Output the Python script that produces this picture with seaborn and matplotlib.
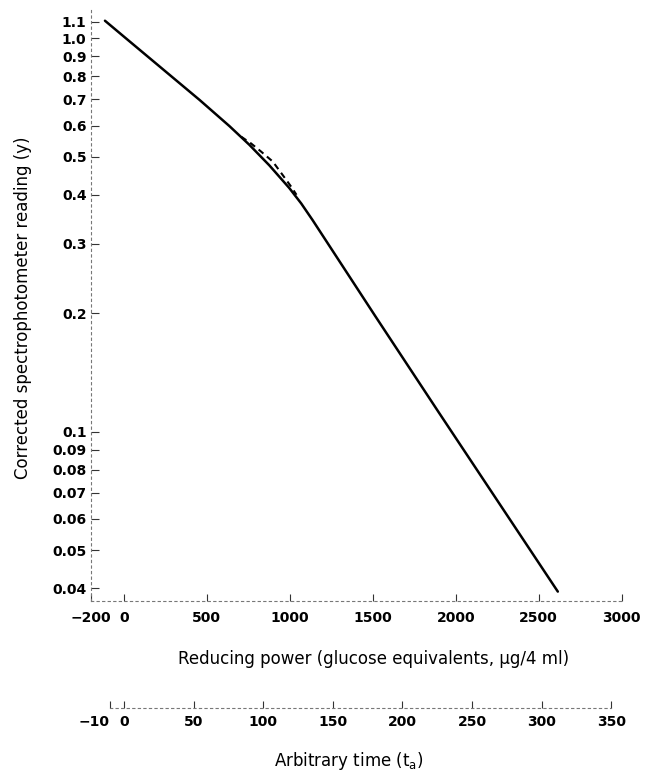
import numpy as np
import pandas as pd
import matplotlib
matplotlib.use("Agg")
import matplotlib.pyplot as plt
import seaborn as sns
from matplotlib.ticker import NullLocator

# ---------------- data ----------------
glucose_solid = [-114, 18, 456, 636, 756, 877, 997, 1069, 1137, 1517, 1897, 2615]
reading_solid = [1.108, 0.995, 0.697, 0.598, 0.536, 0.475, 0.416, 0.380, 0.345, 0.196, 0.112, 0.0392]

glucose_dashed = [707, 767, 827, 897, 957, 1007, 1040]
reading_dashed = [0.562, 0.540, 0.515, 0.486, 0.449, 0.420, 0.400]

x_ticks = [-200, 0, 500, 1000, 1500, 2000, 2500, 3000]
x_tick_labels = ["\u2212200", "0", "500", "1000", "1500", "2000", "2500", "3000"]

y_ticks = [1.1, 1.0, 0.9, 0.8, 0.7, 0.6, 0.5, 0.4, 0.3, 0.2,
           0.1, 0.09, 0.08, 0.07, 0.06, 0.05, 0.04]
y_tick_labels = ["1.1", "1.0", "0.9", "0.8", "0.7", "0.6", "0.5", "0.4", "0.3", "0.2",
                 "0.1", "0.09", "0.08", "0.07", "0.06", "0.05", "0.04"]

time_ticks = [-10, 0, 50, 100, 150, 200, 250, 300, 350]
time_tick_labels = ["\u221210", "0", "50", "100", "150", "200", "250", "300", "350"]
time_per_glucose = 0.11914  # arbitrary time units per glucose unit

x_label = "Reducing power (glucose equivalents, \u03bcg/4 ml)"
y_label = "Corrected spectrophotometer reading (y)"
t_label = "Arbitrary time (t$_\\mathrm{a}$)"

# ---------------- plotting ----------------
sns.set_theme(style="ticks")
plt.rcParams["font.family"] = ["DejaVu Sans"]
plt.rcParams["mathtext.fontset"] = "dejavusans"
plt.rcParams["text.color"] = "black"

solid_df = pd.DataFrame({"glucose": glucose_solid, "reading": reading_solid})
dashed_df = pd.DataFrame({"glucose": glucose_dashed, "reading": reading_dashed})

fig = plt.figure(figsize=(6.45, 7.73), dpi=100)
ax = fig.add_axes([0.1406, 0.2225, 0.8233, 0.7646])

sns.lineplot(data=solid_df, x="glucose", y="reading", ax=ax, sort=False,
             estimator=None, color="black", linewidth=1.8)
sns.lineplot(data=dashed_df, x="glucose", y="reading", ax=ax, sort=False,
             estimator=None, color="black", linewidth=1.5)
ax.lines[-1].set_linestyle((0, (3, 2.2)))
for ln in ax.lines:
    ln.set_solid_joinstyle("round")
    ln.set_solid_capstyle("round")

ax.set_yscale("log")
ax.set_xlim(-200, 3000)
ax.set_ylim(0.0371, 1.18)

ax.set_xticks(x_ticks)
ax.set_xticklabels(x_tick_labels)
ax.set_yticks(y_ticks)
ax.set_yticklabels(y_tick_labels)
ax.yaxis.set_minor_locator(NullLocator())
ax.xaxis.set_minor_locator(NullLocator())

for lab in ax.get_xticklabels() + ax.get_yticklabels():
    lab.set_fontweight("bold")
    lab.set_fontsize(10)
    lab.set_color("black")

ax.tick_params(axis="y", direction="in", length=6, width=0.8, pad=3, color="#333333")
ax.tick_params(axis="x", direction="in", length=5, width=0.8, pad=7, color="#333333")

for side in ["top", "right"]:
    ax.spines[side].set_visible(False)
for side in ["left", "bottom"]:
    ax.spines[side].set_linestyle((0, (2, 3)))
    ax.spines[side].set_linewidth(0.8)
    ax.spines[side].set_color("#777777")

ax.set_xlabel(x_label, fontsize=12, color="black")
ax.xaxis.set_label_coords(0.5326, -0.083)
ax.set_ylabel(y_label, fontsize=12, color="black")
ax.yaxis.set_label_coords(-0.110, 0.4966)

# secondary time axis below
sec = ax.secondary_xaxis(-0.181, functions=(lambda g: np.asarray(g) * time_per_glucose,
                                            lambda t: np.asarray(t) / time_per_glucose))
sec.set_xticks(time_ticks)
sec.set_xticklabels(time_tick_labels)
sec.xaxis.set_minor_locator(NullLocator())
for lab in sec.get_xticklabels():
    lab.set_fontweight("bold")
    lab.set_fontsize(10)
    lab.set_color("black")
sec.get_xticklabels()[0].set_horizontalalignment("right")
sec.tick_params(axis="x", direction="in", length=5, width=0.8, pad=5, color="#333333")
sec.spines["bottom"].set_linestyle((0, (2, 3)))
sec.spines["bottom"].set_linewidth(0.8)
sec.spines["bottom"].set_color("#777777")
sec.spines["bottom"].set_bounds(-10, 350)

fig.text(349 / 645, 1 - 761 / 773, t_label, fontsize=12, ha="center", va="center",
         color="black")

fig.savefig("out.png", dpi=100)
